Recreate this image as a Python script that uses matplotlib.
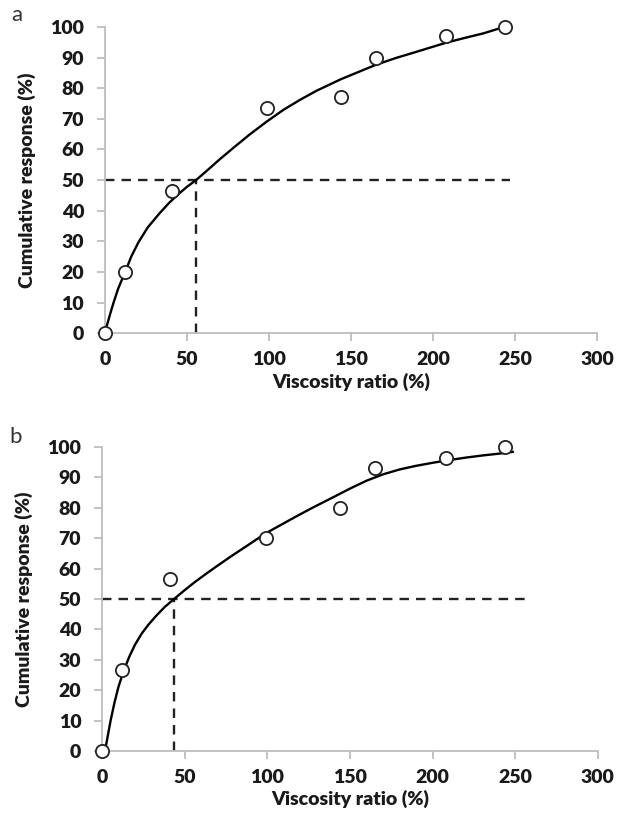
import numpy as np
import matplotlib
matplotlib.use("Agg")
import matplotlib.pyplot as plt

plt.rcParams['font.family'] = ['Lato', 'DejaVu Sans']

# measured points (viscosity ratio %, cumulative response %)
visc = [0, 12, 41, 99, 144, 165, 208, 244]
resp_a = [0, 20, 46.5, 73.5, 77, 90, 97, 100]
resp_b = [0, 26.5, 56.5, 70, 80, 93, 96.5, 100]

# fitted curves
fit_a_x = [0, 1, 3, 5, 8, 12.2, 16, 20.3, 26, 33.5, 39, 44.7, 50, 55.5, 62, 70, 78, 88, 98.6,
           108.7, 118.9, 129.1, 143.7, 155, 165, 177, 190, 208.3, 220, 230.7, 247]
fit_a_y = [0, 2.2, 6, 9.6, 14.5, 19.9, 25, 29.6, 34.5, 39.3, 42.5, 45.4, 47.8, 50, 53, 56.8, 60.4, 64.8, 69.1,
           72.9, 76.2, 79.2, 82.9, 85.4, 87.6, 89.8, 91.9, 94.9, 96.5, 97.9, 100.6]
fit_b_x = [1.8, 3.5, 5.2, 7.5, 9.9, 12, 14, 16.5, 20, 24, 28, 33, 38, 43.6, 50, 56, 63, 70, 78, 88, 99,
           108, 118, 128, 140, 150, 160, 170, 180, 190, 200, 210, 220, 230, 240, 248.5]
fit_b_y = [0, 5, 10, 15.8, 21, 24.5, 27.6, 31, 35, 38.6, 41.5, 44.6, 47.4, 50, 52.9, 55.5, 58.3, 61, 64, 67.6, 71.6,
           74.3, 77.3, 80.2, 83.5, 86.3, 88.9, 91.0, 92.6, 93.8, 94.8, 95.7, 96.5, 97.2, 97.8, 98.4]

# 50% response read-off
half_a = 55.5
half_b = 43.6
hline_end_a = 247
hline_end_b = 259

txt = '#1a1a1a'
axcol = '#bdbdbd'

fig = plt.figure(figsize=(6.19, 8.31), dpi=100)
ax_a = fig.add_axes([0.1696, 0.599, 0.795, 0.3686])
ax_b = fig.add_axes([0.1648, 0.0963, 0.801, 0.3658])


def panel(ax, fx, fy, ry, half, hend):
    ax.plot(fx, fy, color='black', lw=1.7, zorder=3, solid_joinstyle='round')
    ax.plot(visc, ry, 'o', ms=9.5, mfc='white', mec='#222222', mew=1.3, zorder=4, clip_on=False)
    ax.plot([0, hend], [50, 50], color='#222222', lw=1.7, ls=(0, (4, 3)), zorder=2)
    ax.plot([half, half], [0, 50], color='#222222', lw=1.7, ls=(0, (4, 3)), zorder=2)

    ax.set_xlim(0, 300)
    ax.set_ylim(0, 100)
    ax.set_xticks(np.arange(0, 301, 50))
    ax.set_yticks(np.arange(0, 101, 10))
    for s in ['top', 'right']:
        ax.spines[s].set_visible(False)
    for s in ['left', 'bottom']:
        ax.spines[s].set_color(axcol)
        ax.spines[s].set_linewidth(1.3)
    ax.tick_params(direction='out', length=6, width=1.3, color=axcol,
                   labelsize=14, labelcolor=txt)
    ax.tick_params(axis='x', pad=7)
    ax.tick_params(axis='y', pad=9)
    for lab in ax.get_xticklabels() + ax.get_yticklabels():
        lab.set_fontweight('heavy')
    ax.set_xlabel('Viscosity ratio (%)', fontsize=14, fontweight='heavy', color=txt, labelpad=3)
    ax.set_ylabel('Cumulative response (%)', fontsize=14, fontweight='heavy', color=txt, labelpad=10)


panel(ax_a, fit_a_x, fit_a_y, resp_a, half_a, hline_end_a)
panel(ax_b, fit_b_x, fit_b_y, resp_b, half_b, hline_end_b)

fig.text(17 / 619, 1 - 15 / 831, 'a', fontsize=16, color='#333333', ha='center', va='center')
fig.text(16 / 619, 1 - 437 / 831, 'b', fontsize=16, color='#333333', ha='center', va='center')

fig.savefig('out.png', dpi=100)
